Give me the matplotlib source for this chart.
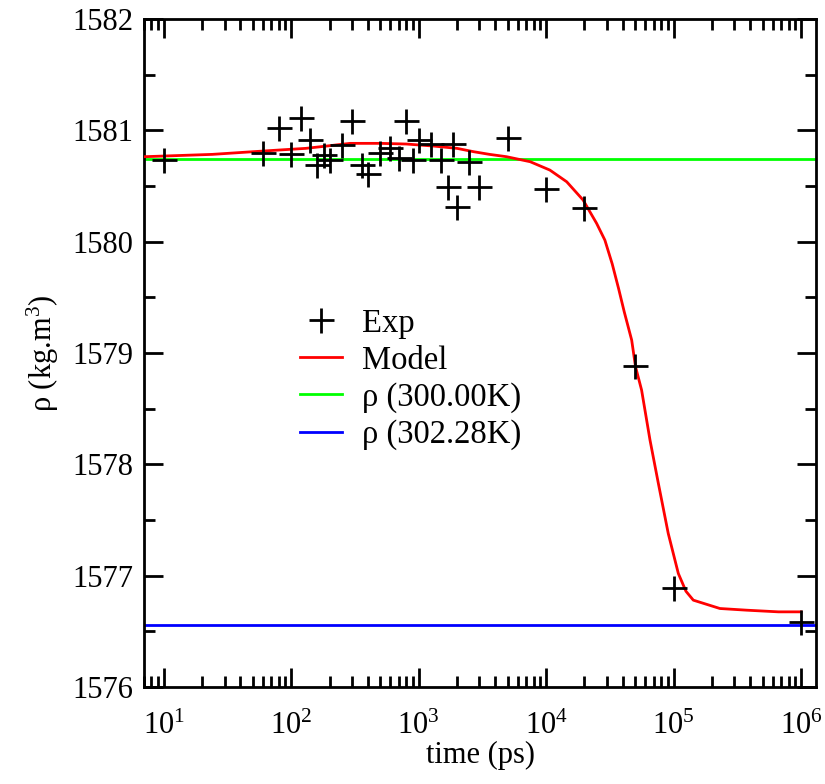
import matplotlib
matplotlib.use("Agg")
import matplotlib.pyplot as plt
import numpy as np
from matplotlib.ticker import LogLocator, LogFormatterMathtext, MultipleLocator

plt.rcParams['font.family'] = ['Liberation Serif', 'DejaVu Serif']
plt.rcParams['mathtext.fontset'] = 'custom'
plt.rcParams['mathtext.rm'] = 'Liberation Serif'
plt.rcParams['mathtext.it'] = 'Liberation Serif:italic'

# experimental points (time in ps, density in kg/m3)
exp_t = [10, 60, 80, 100, 120, 140, 160, 180, 200, 250, 300, 360, 400,
         500, 600, 700, 800, 900, 1000, 1250, 1500, 1700, 1850, 2000,
         2500, 3000, 5000, 10000, 20000, 50000, 100000, 1000000]
exp_rho = [1580.73, 1580.80, 1581.02, 1580.79, 1581.11, 1580.91, 1580.69,
           1580.78, 1580.73, 1580.87, 1581.08, 1580.69, 1580.61,
           1580.80, 1580.84, 1580.75, 1581.08, 1580.73, 1580.91, 1580.88,
           1580.73, 1580.49, 1580.88, 1580.31, 1580.72, 1580.49, 1580.93,
           1580.47, 1580.30, 1578.88, 1576.89, 1576.58]

# model curve
model_t = [7, 24, 50, 80, 130, 190, 290, 500, 800, 1300, 2000, 2700, 3600,
           4900, 7500, 10700, 14500, 19500, 24900, 28900, 33000, 37000,
           41000, 46900, 50300, 56100, 65300, 75900, 90800, 108900, 125000,
           142800, 231000, 374000, 664000, 1000000]
model_rho = [1580.763, 1580.784, 1580.808, 1580.823, 1580.838, 1580.859,
             1580.883, 1580.883, 1580.877, 1580.859, 1580.838, 1580.808,
             1580.784, 1580.763, 1580.718, 1580.643, 1580.538, 1580.374,
             1580.164, 1580.014, 1579.80, 1579.58, 1579.37, 1579.116,
             1578.876, 1578.667, 1578.218, 1577.83, 1577.379, 1577.02,
             1576.86, 1576.78, 1576.705, 1576.69, 1576.675, 1576.675]

rho_300 = 1580.745
rho_302 = 1576.555

fig = plt.figure(figsize=(8.25, 7.84), dpi=100)
ax = fig.add_axes([144/825, 1-687/784, 672/825, 668/784])

ax.axhline(rho_300, color='#00ff00', lw=2, label='ρ (300.00K)', zorder=2)
ax.axhline(rho_302, color='#0000ff', lw=2, label='ρ (302.28K)', zorder=2)
ax.plot(model_t, model_rho, color='#ff0000', lw=2, label='Model', zorder=3)
ax.plot(exp_t, exp_rho, ls='none', marker='+', ms=18, mew=2, color='black',
        label='Exp', zorder=4)

ax.set_xscale('log')
ax.set_xlim(7, 1.31e6)
ax.set_ylim(1576, 1582)
ax.yaxis.set_major_locator(MultipleLocator(1))
ax.yaxis.set_minor_locator(MultipleLocator(0.5))
ax.xaxis.set_major_locator(LogLocator(base=10, numticks=10))
ax.xaxis.set_minor_locator(LogLocator(base=10, subs=np.arange(2, 10), numticks=20))
ax.xaxis.set_major_formatter(LogFormatterMathtext())

ax.tick_params(which='both', direction='in', top=True, right=True, width=2,
               labelsize=22)
ax.tick_params(which='major', length=14, pad=8)
ax.tick_params(axis='x', which='major', pad=18)
ax.tick_params(which='minor', length=8)
for s in ax.spines.values():
    s.set_linewidth(2)

ax.set_xlabel('time (ps)', fontsize=22, labelpad=0)
ax.set_ylabel('ρ (kg.m$^{3}$)', fontsize=22, labelpad=8)

h, l = ax.get_legend_handles_labels()
order = [3, 2, 0, 1]
ax.legend([h[i] for i in order], [l[i] for i in order], loc='upper left',
          bbox_to_anchor=(0.232, 0.567), frameon=False, fontsize=23.5,
          borderaxespad=0, borderpad=0, handlelength=1.3,
          labelspacing=0.2, handletextpad=0.6)

fig.savefig('out.png', dpi=100)
